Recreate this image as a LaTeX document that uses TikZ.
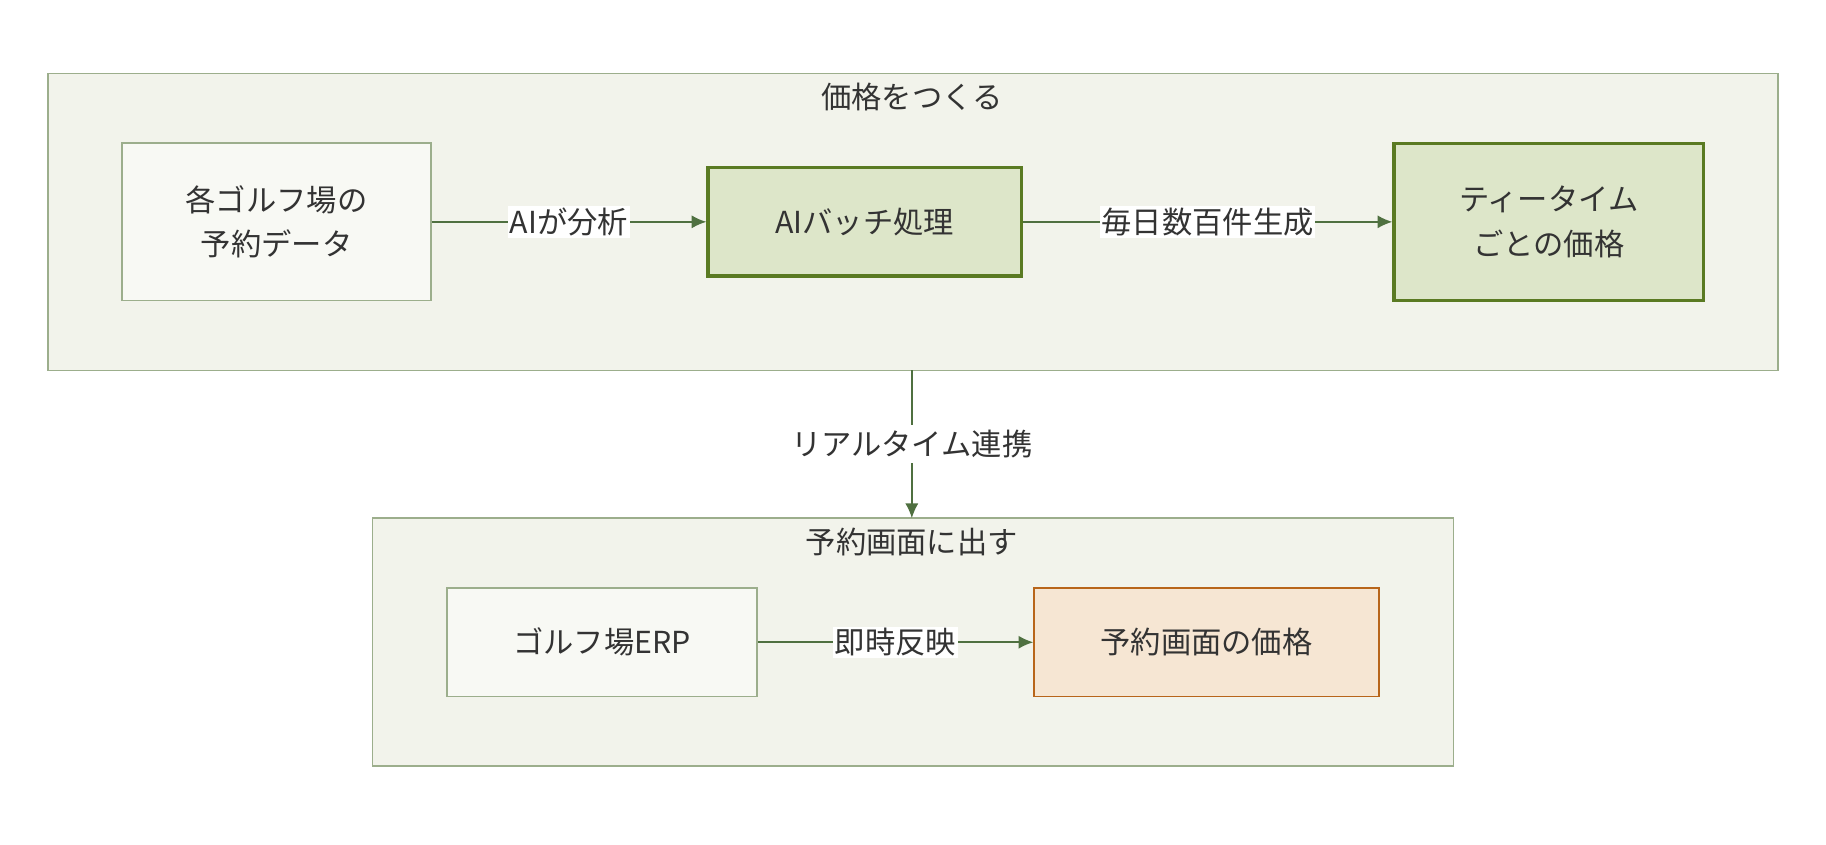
\documentclass[tikz,border=0pt]{standalone}
\usepackage{fontspec}
\setmainfont{Noto Sans CJK JP}
\usetikzlibrary{arrows.meta}
\definecolor{grpfill}{HTML}{F2F3EB}
\definecolor{grpline}{HTML}{9CAE8C}
\definecolor{boxfill}{HTML}{F8F9F4}
\definecolor{keyfill}{HTML}{DDE6C9}
\definecolor{keyline}{HTML}{5A7A22}
\definecolor{resfill}{HTML}{F6E6D3}
\definecolor{resline}{HTML}{B8651A}
\definecolor{arr}{HTML}{4F7040}
\definecolor{txt}{HTML}{333333}
\begin{document}
\begin{tikzpicture}[x=0.025cm,y=-0.025cm,
  font=\fontsize{18.5}{27}\selectfont, text=txt,
  grp/.style={draw=grpline, fill=grpfill, line width=1pt},
  box/.style={draw=grpline, fill=boxfill, line width=1pt, align=center},
  key/.style={draw=keyline, fill=keyfill, line width=2pt, align=center},
  res/.style={draw=resline, fill=resfill, line width=1pt, align=center},
  flow/.style={draw=arr, line width=1pt, -{Latex[length=9pt,width=8pt]}},
  lbl/.style={fill=white, inner sep=1pt}]
  \useasboundingbox (0,0) rectangle (1568,725);
  % groups
  \draw[grp] (41,63) rectangle (1527,318);
  \node at (783,83) {価格をつくる};
  \draw[grp] (320,445) rectangle (1248,658);
  \node at (783,465) {予約画面に出す};
  % nodes
  \node[box, minimum width=265*0.025cm, minimum height=135*0.025cm] (data) at (237.5,190.5) {各ゴルフ場の\\予約データ};
  \node[key, minimum width=269*0.025cm, minimum height=93*0.025cm] (batch) at (742.5,190.5) {AIバッチ処理};
  \node[key, minimum width=266*0.025cm, minimum height=135*0.025cm] (price) at (1330,190.5) {ティータイム\\ごとの価格};
  \node[box, minimum width=266*0.025cm, minimum height=93*0.025cm] (erp) at (517,551.5) {ゴルフ場ERP};
  \node[res, minimum width=296*0.025cm, minimum height=93*0.025cm] (screen) at (1036,551.5) {予約画面の価格};
  \coordinate (top) at (783,318);
  \coordinate (bot) at (783,445);
  % connectors
  \draw[flow] (data) -- node[lbl] {AIが分析} (batch);
  \draw[flow] (batch) -- node[lbl] {毎日数百件生成} (price);
  \draw[flow] (erp) -- node[lbl] {即時反映} (screen);
  \draw[flow] (top) -- node[fill=white, inner sep=3pt] {リアルタイム連携} (bot);
\end{tikzpicture}
\end{document}
